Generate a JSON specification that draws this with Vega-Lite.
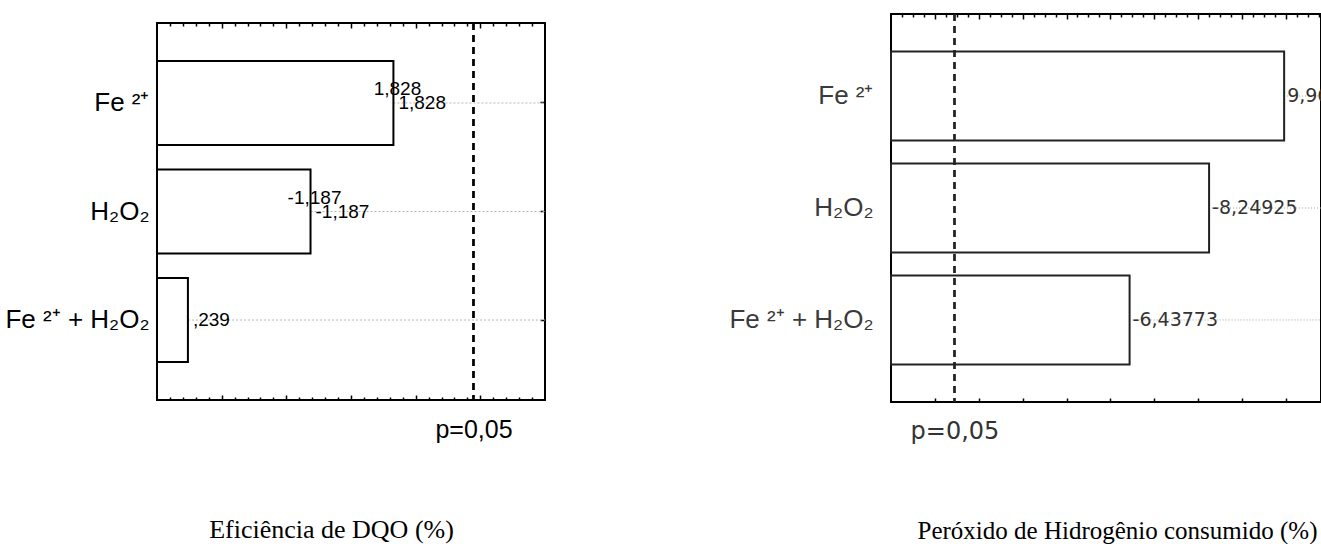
{
  "$schema": "https://vega.github.io/schema/vega-lite/v6.json",
  "background": "white",
  "padding": 0,
  "spacing": 180,
  "config": {
    "view": {"stroke": "black", "strokeWidth": 2},
    "axis": {"grid": false, "domain": false, "tickColor": "black", "tickWidth": 1.5}
  },
  "datasets": {
    "dqo": [
      {"factor": "Fe ²⁺", "effect": 1.828, "abs": 1.828, "label": "1,828", "dup": "1,828"},
      {"factor": "H₂O₂", "effect": -1.187, "abs": 1.187, "label": "-1,187", "dup": "-1,187"},
      {"factor": "Fe ²⁺ + H₂O₂", "effect": 0.239, "abs": 0.239, "label": ",239", "dup": ""}
    ],
    "h2o2": [
      {"factor": "Fe ²⁺", "effect": 9.96, "abs": 9.96, "label": "9,96"},
      {"factor": "H₂O₂", "effect": -8.24925, "abs": 8.24925, "label": "-8,24925"},
      {"factor": "Fe ²⁺ + H₂O₂", "effect": -6.43773, "abs": 6.43773, "label": "-6,43773"}
    ]
  },
  "hconcat": [
    {
      "spacing": 6,
      "vconcat": [
        {
          "width": 388,
          "height": 1,
          "view": {"stroke": null},
          "data": {"values": []},
          "mark": "point"
        },
        {
          "width": 388,
          "height": 377,
          "data": {"name": "dqo"},
          "layer": [
            {
              "mark": {"type": "rule", "stroke": "#b5b5b5", "strokeWidth": 1, "strokeDash": [2, 2]},
              "encoding": {
                "x": {"field": "abs", "type": "quantitative",
                  "axis": {"orient": "top", "labels": false, "title": null, "minExtent": 0, "maxExtent": 0,
                    "values": [0.1,0.2,0.3,0.4,0.5,0.6,0.7,0.8,0.9,1,1.1,1.2,1.3,1.4,1.5,1.6,1.7,1.8,1.9,2,2.1,2.2,2.3,2.4,2.5,2.6,2.7,2.8,2.9],
                    "tickSize": {"condition": {"test": "datum.value % 0.5 == 0", "value": -5}, "value": -3}}},
                "x2": {"datum": 3},
                "y": {"field": "factor", "type": "nominal", "sort": null,
                  "axis": {"orient": "right", "labels": false, "title": null, "tickSize": -5, "minExtent": 0, "maxExtent": 0}}
              }
            },
            {
              "mark": {"type": "bar", "fill": "white", "stroke": "black", "strokeWidth": 2},
              "encoding": {
                "x": {"field": "abs", "type": "quantitative",
                  "scale": {"domain": [0, 3], "nice": false, "zero": true},
                  "axis": {"orient": "bottom", "title": "Eficiência de DQO (%)",
                    "values": [0.1,0.2,0.3,0.4,0.5,0.6,0.7,0.8,0.9,1,1.1,1.2,1.3,1.4,1.5,1.6,1.7,1.8,1.9,2,2.1,2.2,2.3,2.4,2.447,2.5,2.6,2.7,2.8,2.9],
                    "labelExpr": "datum.value == 2.447 ? 'p=0,05' : ''",
                    "labelFont": "Liberation Sans", "labelFontSize": 25, "labelColor": "black",
                    "labelPadding": 17, "labelOverlap": false, "labelFlush": false,
                    "tickSize": {"condition": [{"test": "datum.value == 2.447", "value": 0}, {"test": "datum.value % 0.5 == 0", "value": -5}], "value": -3},
                    "titleFont": "Liberation Serif", "titleFontSize": 26, "titleFontWeight": "normal", "titleColor": "black",
                    "titlePadding": 74, "titleX": 174}},
                "y": {"field": "factor", "type": "nominal", "sort": null,
                  "scale": {"paddingInner": 0.226, "paddingOuter": 0.35},
                  "axis": {"orient": "left", "title": null, "tickSize": -5, "labelPadding": 13,
                    "labelFont": "Liberation Sans", "labelFontSize": 26, "labelColor": "black", "labelLimit": 200,
                    "minExtent": 156, "maxExtent": 156}}
              }
            },
            {
              "mark": {"type": "rule", "color": "black", "strokeWidth": 2, "strokeDash": [7, 5]},
              "encoding": {"x": {"datum": 2.447, "type": "quantitative", "axis": null}}
            },
            {
              "mark": {"type": "text", "align": "left", "baseline": "middle", "dx": 5, "font": "Liberation Sans", "fontSize": 19, "color": "black"},
              "encoding": {
                "x": {"field": "abs", "type": "quantitative", "axis": null},
                "y": {"field": "factor", "type": "nominal", "sort": null, "axis": null},
                "text": {"field": "label"}
              }
            },
            {
              "mark": {"type": "text", "align": "center", "baseline": "middle", "dx": 4, "dy": -14, "font": "Liberation Sans", "fontSize": 19, "color": "black"},
              "encoding": {
                "x": {"field": "abs", "type": "quantitative", "axis": null},
                "y": {"field": "factor", "type": "nominal", "sort": null, "axis": null},
                "text": {"field": "dup"}
              }
            }
          ],
          "resolve": {"axis": {"x": "independent", "y": "independent"}}
        }
      ]
    },
    {
      "width": 430,
      "height": 388,
      "data": {"name": "h2o2"},
      "layer": [
        {
          "mark": {"type": "rule", "stroke": "#a0a0a0", "strokeWidth": 1, "strokeDash": [1, 2]},
          "encoding": {
            "x": {"field": "abs", "type": "quantitative",
              "axis": {"orient": "top", "labels": false, "title": null, "minExtent": 13, "maxExtent": 13,
                "values": [1.25,1.5,1.75,2,2.25,2.5,2.75,3,3.25,3.5,3.75,4,4.25,4.5,4.75,5,5.25,5.5,5.75,6,6.25,6.5,6.75,7,7.25,7.5,7.75,8,8.25,8.5,8.75,9,9.25,9.5,9.75,10,10.25,10.5,10.75],
                "tickSize": {"condition": {"test": "datum.value % 1 == 0", "value": -5}, "value": -3}}},
            "x2": {"datum": 10.8},
            "y": {"field": "factor", "type": "nominal", "sort": null, "axis": null}
          }
        },
        {
          "mark": {"type": "bar", "fill": "white", "stroke": "#222222", "strokeWidth": 2},
          "encoding": {
            "x": {"field": "abs", "type": "quantitative",
              "scale": {"domain": [1, 10.8], "nice": false, "zero": false},
              "axis": {"orient": "bottom", "title": "Peróxido de Hidrogênio consumido (%)",
                "values": [2, 2.447, 3, 4, 5, 6, 7, 8, 9, 10],
                "labelExpr": "datum.value == 2.447 ? 'p=0,05' : ''",
                "labelFont": "DejaVu Sans", "labelFontSize": 24, "labelColor": "#333333",
                "labelPadding": 17, "labelOverlap": false, "labelFlush": false,
                "tickSize": {"condition": {"test": "datum.value == 2.447", "value": 0}, "value": -4},
                "titleFont": "Liberation Serif", "titleFontSize": 25, "titleFontWeight": "normal", "titleColor": "black",
                "titlePadding": 75, "titleX": 226}},
            "x2": {"datum": 1},
            "y": {"field": "factor", "type": "nominal", "sort": null,
              "scale": {"paddingInner": 0.205, "paddingOuter": 0.335},
              "axis": {"orient": "left", "title": null, "tickSize": -4, "labelPadding": 22,
                "labelFont": "Liberation Sans", "labelFontSize": 26, "labelColor": "#3a3a3a", "labelLimit": 200,
                "minExtent": 160, "maxExtent": 160}}
          }
        },
        {
          "mark": {"type": "rule", "color": "#222222", "strokeWidth": 2, "strokeDash": [7, 5]},
          "encoding": {"x": {"datum": 2.447, "type": "quantitative", "axis": null}}
        },
        {
          "mark": {"type": "text", "align": "left", "baseline": "middle", "dx": 3, "font": "DejaVu Sans", "fontSize": 19, "color": "#333333", "clip": true},
          "encoding": {
            "x": {"field": "abs", "type": "quantitative", "axis": null},
            "y": {"field": "factor", "type": "nominal", "sort": null, "axis": null},
            "text": {"field": "label"}
          }
        }
      ],
      "resolve": {"axis": {"x": "independent", "y": "independent"}}
    }
  ]
}
